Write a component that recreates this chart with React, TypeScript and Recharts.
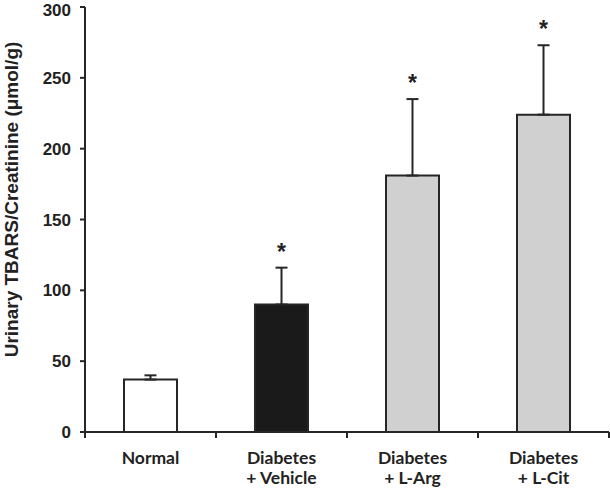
import { BarChart, Bar, XAxis, YAxis, ErrorBar, LabelList } from 'recharts';

// group labels, two lines each
const GROUPS = [['Normal', ''], ['Diabetes', '+ Vehicle'], ['Diabetes', '+ L-Arg'], ['Diabetes', '+ L-Cit']];
const MEANS = [37, 90, 181, 224];
const SEMS = [3, 26, 54, 49];
const STARRED = [false, true, true, true];
const FILLS = ['#ffffff', '#1a1a1a', '#d0d0d0', '#d0d0d0'];
const Y_TICKS = [0, 50, 100, 150, 200, 250, 300];
const Y_TITLE = 'Urinary TBARS/Creatinine (μmol/g)';

const INK = '#262626';
const ARIAL = 'Liberation Sans, Arial, sans-serif';

const data = GROUPS.map((g, i) => ({
  pos: i + 0.5,
  value: MEANS[i],
  err: [0, SEMS[i]],
  star: STARRED[i],
  fill: FILLS[i],
}));

// ticks at every half step: whole numbers get a tick mark, halves get the group name
const X_TICKS = Array.from({ length: GROUPS.length * 2 + 1 }, (_, i) => i / 2);

function GroupTick(props: any) {
  const { x, y, payload } = props;
  const v = payload.value;
  if (Number.isInteger(v)) {
    return <line x1={x} x2={x} y1={y} y2={y + 6} stroke={INK} strokeWidth={2} />;
  }
  const [l1, l2] = GROUPS[Math.floor(v)];
  return (
    <text x={x} y={y} textAnchor="middle" fill="#222" fontFamily="Lato, sans-serif" fontWeight={700} fontSize={17.5}>
      <tspan x={x} dy={32}>{l1}</tspan>
      {l2 && <tspan x={x} dy={20}>{l2}</tspan>}
    </text>
  );
}

function YTitle(props: any) {
  const { viewBox } = props;
  const cx = viewBox.x + 11;
  const cy = viewBox.y + viewBox.height / 2 - 20;
  return (
    <text x={cx} y={cy} transform={`rotate(-90, ${cx}, ${cy})`} textAnchor="middle" dominantBaseline="central"
      fill="#222" fontFamily={ARIAL} fontWeight={700} fontSize={19}>
      {Y_TITLE}
    </text>
  );
}

function Star(props: any) {
  const { x, y, width, height, value, index } = props;
  if (!data[index].star) return null;
  const pxPerUnit = height / value;
  const top = y - SEMS[index] * pxPerUnit;
  return (
    <text x={x + width / 2} y={top - 8} textAnchor="middle" fill="#222" fontFamily={ARIAL} fontWeight={700} fontSize={23}>
      *
    </text>
  );
}

export default function App() {
  return (
    <div style={{ position: 'absolute', left: 0, top: 0, background: '#fff' }}>
      <BarChart width={610} height={489} data={data} margin={{ top: 7, right: 1, bottom: 0, left: 0 }}>
        <XAxis
          type="number"
          dataKey="pos"
          domain={[0, GROUPS.length]}
          ticks={X_TICKS}
          interval={0}
          height={57}
          tickSize={0}
          tickMargin={0}
          tickLine={false}
          tick={<GroupTick />}
          axisLine={{ stroke: INK, strokeWidth: 2 }}
        />
        <YAxis
          domain={[0, 300]}
          ticks={Y_TICKS}
          width={85}
          tickSize={5}
          tickMargin={9}
          tickLine={{ stroke: INK, strokeWidth: 2 }}
          axisLine={{ stroke: INK, strokeWidth: 2 }}
          tick={{ fill: '#222', fontFamily: ARIAL, fontWeight: 700, fontSize: 17 }}
          label={<YTitle />}
        />
        <Bar dataKey="value" barSize={53} stroke={INK} strokeWidth={2} isAnimationActive={false}>
          <ErrorBar dataKey="err" direction="y" width={6} stroke={INK} strokeWidth={2} />
          <LabelList dataKey="value" content={<Star />} />
        </Bar>
      </BarChart>
    </div>
  );
}
